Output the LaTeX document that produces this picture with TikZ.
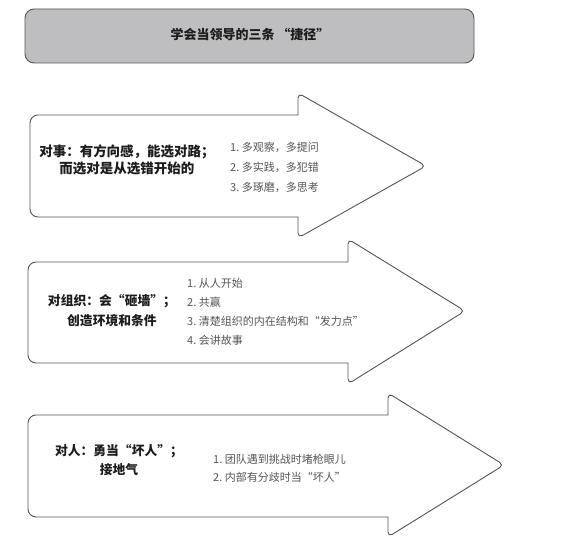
\documentclass[tikz,border=0pt]{standalone}
\usepackage{fontspec}
\setmainfont{Noto Sans CJK SC}
\definecolor{framegray}{RGB}{85,85,85}
\definecolor{titlegray}{RGB}{190,190,193}
\definecolor{listgray}{RGB}{85,85,85}
\definecolor{headcol}{RGB}{28,28,28}

\begin{document}
\begin{tikzpicture}[x=1pt,y=-1pt,
    arrowbody/.style={draw=framegray, line width=0.9pt, fill=white},
    topic/.style={text=headcol, align=center, inner sep=0pt},
    items/.style={text=listgray, align=left, anchor=west, inner sep=0pt}]
    \useasboundingbox (0,0) rectangle (566,545);

    % Title bar
    \draw[fill=titlegray, draw=framegray, line width=0.9pt, rounded corners=9pt] (25,9) rectangle (474,63);
    \node[font=\fontsize{13}{15}\selectfont\bfseries, text=headcol] (title) at (250,35) {学会当领导的三条 “捷径”};

    % First arrow: things
    \draw[arrowbody] (298,115) [rounded corners=8pt] -- (30,115) -- (30,217) [sharp corners] -- (298,217)
        [rounded corners=5pt] -- (298,238) -- (426,166) -- (298,93) [sharp corners] -- cycle;
    \node[topic, font=\fontsize{13.5}{16.8}\selectfont\bfseries] (things) at (127,160)
        {对事：有方向感，能选对路；\\而选对是从选错开始的};
    \node[items, font=\fontsize{11}{20}\selectfont] (thingslist) at (230,167)
        {1.\ 多观察，多提问\\2.\ 多实践，多犯错\\3.\ 多琢磨，多思考};

    % Second arrow: organisation
    \draw[arrowbody] (348,262) [rounded corners=8pt] -- (28,262) -- (28,363) [sharp corners] -- (348,363)
        [rounded corners=5pt] -- (348,384) -- (465,311) -- (348,239) [sharp corners] -- cycle;
    \node[topic, font=\fontsize{12.8}{20}\selectfont\bfseries] (org) at (112,311)
        {对组织：会“砸墙”；\\创造环境和条件};
    \node[items, font=\fontsize{11}{19}\selectfont] (orglist) at (187,311.5)
        {1.\ 从人开始\\2.\ 共赢\\3.\ 清楚组织的内在结构和“发力点”\\4.\ 会讲故事};

    % Third arrow: people
    \draw[arrowbody] (388,415) [rounded corners=8pt] -- (28,415) -- (28,517) [sharp corners] -- (388,517)
        [rounded corners=5pt] -- (388,537) -- (504,465) -- (388,393) [sharp corners] -- cycle;
    \node[topic, font=\fontsize{12.8}{19}\selectfont\bfseries] (people) at (119,460.5)
        {对人：勇当“坏人”；\\接地气};
    \node[items, font=\fontsize{11}{17.5}\selectfont] (peoplelist) at (213,468.5)
        {1.\ 团队遇到挑战时堵枪眼儿\\2.\ 内部有分歧时当“坏人”};
\end{tikzpicture}
\end{document}
